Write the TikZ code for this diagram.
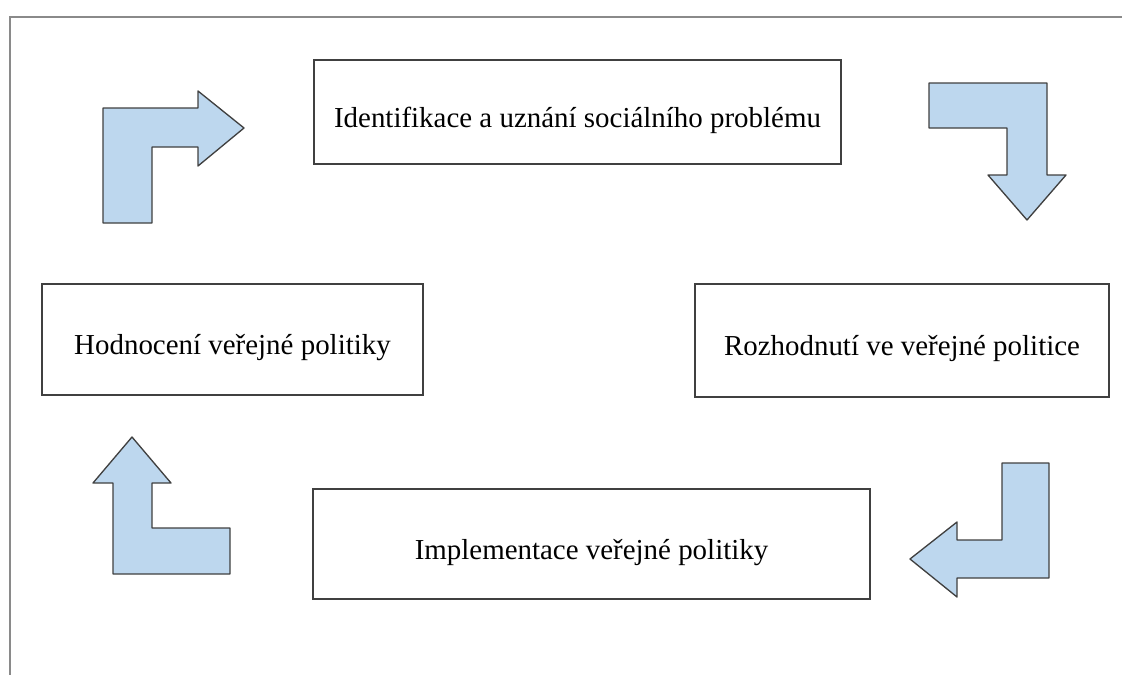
\documentclass[tikz,border=0pt]{standalone}
\usepackage{fontspec}
\setmainfont{Liberation Serif}
\definecolor{arrowfill}{HTML}{BDD7EE}
\definecolor{edgegray}{HTML}{404040}
\definecolor{framegray}{HTML}{8A8A8A}
\tikzset{
  pbox/.style 2 args={draw=edgegray, line width=1.3pt, fill=white, inner sep=0pt,
    minimum width=#1*0.75pt, minimum height=#2*0.75pt,
    text height=22.5pt, text depth=0pt,
    font=\fontsize{21.7pt}{26pt}\selectfont},
  bentarrow/.style={draw=edgegray, line width=1pt, fill=arrowfill, line join=round},
  frameline/.style={draw=framegray, line width=1.6pt}
}
\begin{document}
\begin{tikzpicture}[x=0.75pt, y=-0.75pt]
\useasboundingbox (0,0) rectangle (1122,675);
% frame
\coordinate (fbl) at (10,675);
\coordinate (ftl) at (10,17);
\coordinate (ftr) at (1122,17);
\draw[frameline] (fbl) -- (ftl) -- (ftr);
% boxes
\node[pbox={527}{104}] (ident) at (577.5,112) {Identifikace a uznání sociálního problému};
\node[pbox={381}{111}] (hodn) at (232.5,339.5) {Hodnocení veřejné politiky};
\node[pbox={414}{113}] (rozh) at (902,340.5) {Rozhodnutí ve veřejné politice};
\node[pbox={557}{110}] (impl) at (591.5,544) {Implementace veřejné politiky};
% bent arrows
\draw[bentarrow] (103,223) -- (103,108) -- (198,108) -- (198,91) -- (244,128) -- (198,166) -- (198,147) -- (152,147) -- (152,223) -- cycle;
\draw[bentarrow] (929,83) -- (1047,83) -- (1047,175) -- (1066,175) -- (1027,220) -- (988,175) -- (1007,175) -- (1007,128) -- (929,128) -- cycle;
\draw[bentarrow] (1002,463) -- (1049,463) -- (1049,578) -- (957,578) -- (957,597) -- (910,559) -- (957,522) -- (957,540) -- (1002,540) -- cycle;
\draw[bentarrow] (132,437) -- (171,483) -- (152,483) -- (152,528) -- (230,528) -- (230,574) -- (113,574) -- (113,483) -- (93,483) -- cycle;
\end{tikzpicture}
\end{document}
